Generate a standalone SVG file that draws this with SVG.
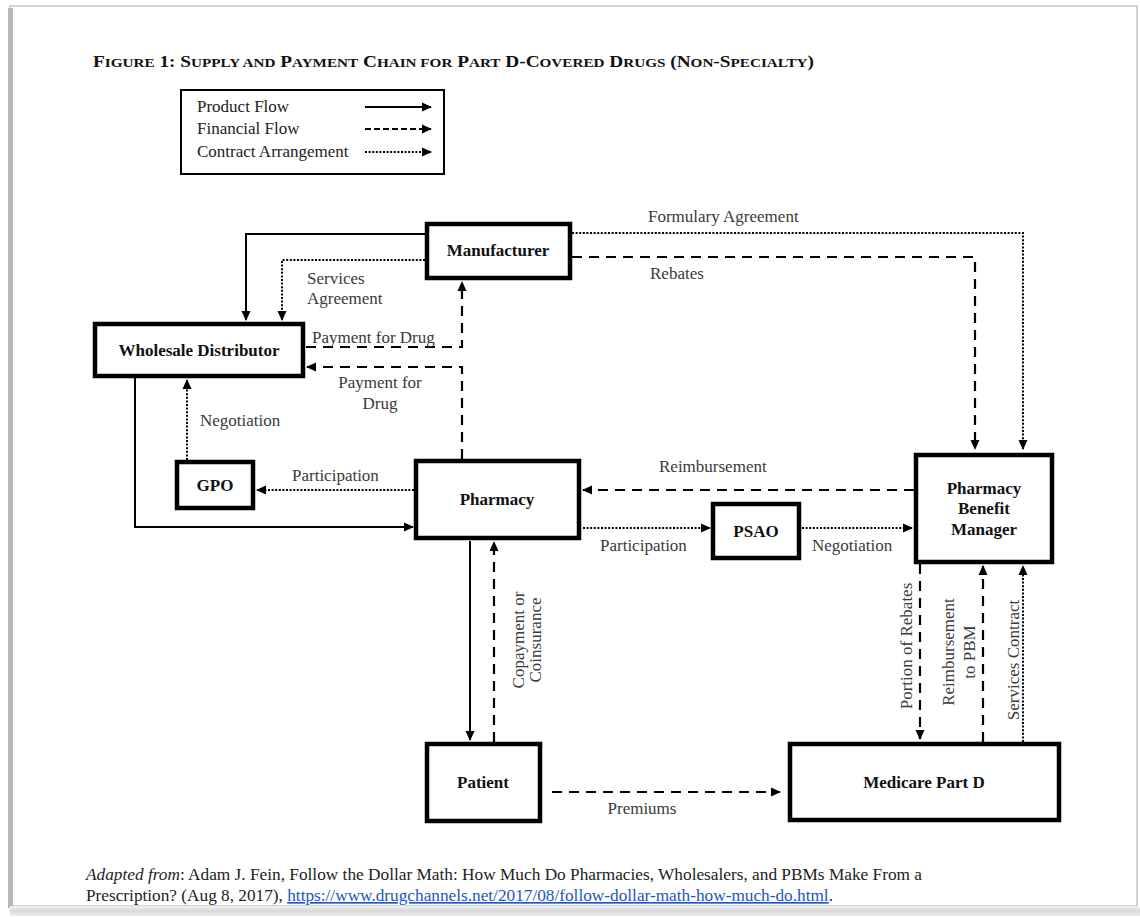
<svg xmlns="http://www.w3.org/2000/svg" width="1140" height="918" viewBox="0 0 1140 918">
<style>
.node rect{fill:#fff;stroke:#000;stroke-width:4.5}
.nl{font-family:"Liberation Serif",serif;font-weight:bold;font-size:17px;fill:#111;text-anchor:middle}
.el{font-family:"Liberation Serif",serif;font-size:17px;fill:#3a3a3a}
.c{text-anchor:middle}
.solid{fill:none;stroke:#000;stroke-width:2}
.dash{fill:none;stroke:#000;stroke-width:2.2;stroke-dasharray:10,7}
.dot{fill:none;stroke:#000;stroke-width:2;stroke-dasharray:2,1.6}
.lg{font-family:"Liberation Serif",serif;font-size:17px;fill:#222}
.ft{font-family:"Liberation Serif",serif;font-size:16.5px;fill:#222}
</style>
<defs>
<marker id="ah" markerUnits="userSpaceOnUse" markerWidth="10" markerHeight="10" refX="9" refY="5" orient="auto">
<path d="M0,0.5 L10,5 L0,9.5 z" fill="#000"/>
</marker>
<linearGradient id="bsh" x1="0" y1="0" x2="0" y2="1">
<stop offset="0" stop-color="#f2f2f2"/><stop offset="0.5" stop-color="#d8d8d8"/><stop offset="1" stop-color="#eeeeee"/>
</linearGradient>
</defs>
<rect x="0" y="0" width="1140" height="918" fill="#fff"/>
<!-- page frame -->
<rect x="10" y="6" width="1127" height="900" fill="#fff" stroke="#c4c4c4" stroke-width="1.5"/>
<rect x="8" y="8" width="5" height="900" fill="#b8b8b8"/>
<rect x="10" y="906" width="1130" height="10" fill="url(#bsh)"/>
<!-- title -->
<text x="93" y="67" font-family="Liberation Serif,serif" font-weight="bold" fill="#111" textLength="721" lengthAdjust="spacingAndGlyphs"><tspan font-size="16.5">F</tspan><tspan font-size="13">IGURE</tspan><tspan font-size="16.5"> 1: S</tspan><tspan font-size="13">UPPLY AND</tspan><tspan font-size="16.5"> P</tspan><tspan font-size="13">AYMENT</tspan><tspan font-size="16.5"> C</tspan><tspan font-size="13">HAIN FOR</tspan><tspan font-size="16.5"> P</tspan><tspan font-size="13">ART</tspan><tspan font-size="16.5"> D-C</tspan><tspan font-size="13">OVERED</tspan><tspan font-size="16.5"> D</tspan><tspan font-size="13">RUGS</tspan><tspan font-size="16.5"> (N</tspan><tspan font-size="13">ON</tspan><tspan font-size="16.5">-S</tspan><tspan font-size="13">PECIALTY</tspan><tspan font-size="16.5">)</tspan></text>
<!-- legend -->
<g id="legend">
<rect x="181" y="90" width="263" height="84" fill="#fff" stroke="#000" stroke-width="2"/>
<text class="lg" x="197" y="112">Product Flow</text>
<text class="lg" x="197" y="134">Financial Flow</text>
<text class="lg" x="197" y="157">Contract Arrangement</text>
<path class="solid" d="M365,107 H431" marker-end="url(#ah)"/>
<path class="dash" d="M365,129 H431" style="stroke-dasharray:6,3" marker-end="url(#ah)"/>
<path class="dot" d="M365,152 H431" marker-end="url(#ah)"/>
</g>
<!-- connectors -->
<g id="connectors">
<path class="solid" d="M425,234 H246 V320" marker-end="url(#ah)"/>
<path class="dot" d="M425,260 H282 V320" marker-end="url(#ah)"/>
<path class="dash" d="M306,347 H462 V282" marker-end="url(#ah)"/>
<path class="dash" d="M462,459 V367 H307" marker-end="url(#ah)"/>
<path class="solid" d="M135,378 V527 H413" marker-end="url(#ah)"/>
<path class="dot" d="M187,460 V380" marker-end="url(#ah)"/>
<path class="dot" d="M414,490 H257" marker-end="url(#ah)"/>
<path class="dash" d="M914,490 H583" marker-end="url(#ah)"/>
<path class="dot" d="M583,528 H710" marker-end="url(#ah)"/>
<path class="dot" d="M802,528 H912" marker-end="url(#ah)"/>
<path class="dot" d="M572,233 H1023 V449" marker-end="url(#ah)"/>
<path class="dash" d="M572,257 H975 V449" marker-end="url(#ah)"/>
<path class="solid" d="M470,541 V740" marker-end="url(#ah)"/>
<path class="dash" d="M494,742 V542" marker-end="url(#ah)"/>
<path class="dash" d="M552,792 H780" marker-end="url(#ah)"/>
<path class="dash" d="M920,564 V739" marker-end="url(#ah)"/>
<path class="dash" d="M983,742 V566" marker-end="url(#ah)"/>
<path class="dot" d="M1023,742 V566" marker-end="url(#ah)"/>
</g>
<!-- edge labels -->
<g id="edge-labels">
<text class="el" x="648" y="222">Formulary Agreement</text>
<text class="el" x="650" y="279">Rebates</text>
<text class="el" x="307" y="284">Services</text>
<text class="el" x="307" y="304">Agreement</text>
<text class="el" x="312" y="343">Payment for Drug</text>
<text class="el c" x="380" y="388">Payment for</text>
<text class="el c" x="380" y="409">Drug</text>
<text class="el" x="200" y="426">Negotiation</text>
<text class="el" x="292" y="481">Participation</text>
<text class="el" x="659" y="472">Reimbursement</text>
<text class="el" x="600" y="551">Participation</text>
<text class="el" x="812" y="551">Negotiation</text>
<text class="el c" x="642" y="814">Premiums</text>
<text class="el c" transform="translate(524,640) rotate(-90)"><tspan x="0" y="0">Copayment or</tspan><tspan x="0" y="17">Coinsurance</tspan></text>
<text class="el c" transform="translate(912,646) rotate(-90)">Portion of Rebates</text>
<text class="el c" transform="translate(954,652) rotate(-90)"><tspan x="0" y="0">Reimbursement</tspan><tspan x="0" y="21">to PBM</tspan></text>
<text class="el c" transform="translate(1019,660) rotate(-90)">Services Contract</text>
</g>
<!-- nodes -->
<g id="manufacturer" class="node"><rect x="427" y="224" width="143" height="54"/><text class="nl" x="498" y="256">Manufacturer</text></g>
<g id="wholesale" class="node"><rect x="95" y="324" width="208" height="52"/><text class="nl" x="199" y="356">Wholesale Distributor</text></g>
<g id="gpo" class="node"><rect x="177" y="462" width="76" height="46"/><text class="nl" x="215" y="491">GPO</text></g>
<g id="pharmacy" class="node"><rect x="416" y="461" width="163" height="77"/><text class="nl" x="497" y="505">Pharmacy</text></g>
<g id="psao" class="node"><rect x="713" y="504" width="86" height="54"/><text class="nl" x="756" y="537">PSAO</text></g>
<g id="pbm" class="node"><rect x="916" y="455" width="136" height="107"/><text class="nl" x="984" y="494">Pharmacy</text><text class="nl" x="984" y="514">Benefit</text><text class="nl" x="984" y="535">Manager</text></g>
<g id="patient" class="node"><rect x="427" y="744" width="113" height="77"/><text class="nl" x="483" y="788">Patient</text></g>
<g id="medicare" class="node"><rect x="790" y="744" width="269" height="76"/><text class="nl" x="924" y="788">Medicare Part D</text></g>
<!-- footer -->
<text class="ft" x="86" y="880" textLength="836" lengthAdjust="spacingAndGlyphs"><tspan font-style="italic">Adapted from</tspan>: Adam J. Fein, Follow the Dollar Math: How Much Do Pharmacies, Wholesalers, and PBMs Make From a</text>
<text class="ft" x="86" y="901" textLength="747" lengthAdjust="spacingAndGlyphs">Prescription? (Aug 8, 2017), <tspan fill="#1a56c4" text-decoration="underline">https://www.drugchannels.net/2017/08/follow-dollar-math-how-much-do.html</tspan>.</text>
</svg>
